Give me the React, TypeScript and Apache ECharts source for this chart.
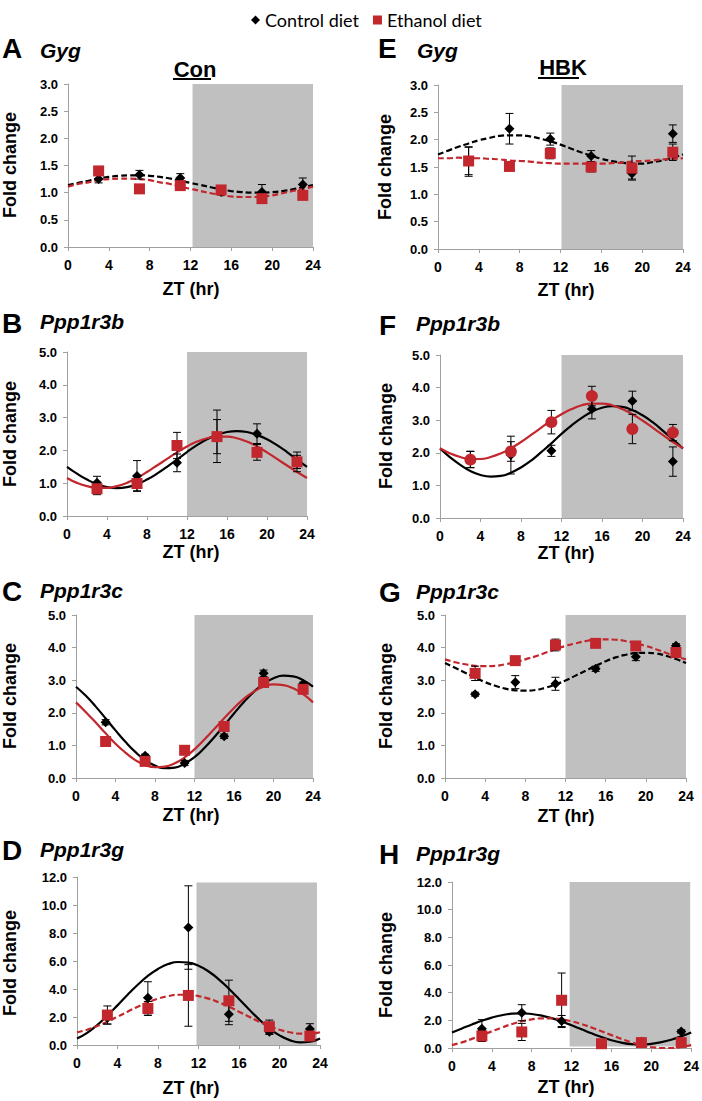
import React, { useEffect, useRef } from "react";
import * as echarts from "echarts";

// ---------- data ----------
const ZT = [3, 7, 11, 15, 19, 23];
const FIT_T = [0, 1, 2, 3, 4, 5, 6, 7, 8, 9, 10, 11, 12, 13, 14, 15, 16, 17, 18, 19, 20, 21, 22, 23, 24];
const X_TICKS = [0, 4, 8, 12, 16, 20, 24];
const LEGEND_NAMES = ["Control diet", "Ethanol diet"];

// A  Gyg (Con)
const ctrlA = [1.25, 1.33, 1.27, 1.01, 1.01, 1.15];
const ctrlErrA = [0.07, 0.08, 0.08, 0.05, 0.14, 0.12];
const ethA = [1.4, 1.07, 1.13, 1.05, 0.89, 0.95];
const ethErrA = [0.08, 0.03, 0.08, 0.04, 0.07, 0.05];
const fitCtrlA = [1.14, 1.18, 1.22, 1.26, 1.29, 1.31, 1.32, 1.32, 1.31, 1.29, 1.26, 1.22, 1.18, 1.14, 1.1, 1.06, 1.03, 1.01, 1.0, 1.0, 1.01, 1.03, 1.06, 1.1, 1.14];
const fitEthA = [1.11, 1.16, 1.19, 1.23, 1.25, 1.26, 1.26, 1.25, 1.23, 1.19, 1.16, 1.11, 1.07, 1.03, 0.99, 0.96, 0.93, 0.92, 0.92, 0.93, 0.95, 0.99, 1.03, 1.07, 1.11];

// E  Gyg (HBK)
const ctrlE = [1.6, 2.2, 2.01, 1.7, 1.38, 2.11];
const ctrlErrE = [0.27, 0.28, 0.11, 0.1, 0.1, 0.16];
const ethE = [1.61, 1.51, 1.75, 1.5, 1.48, 1.77];
const ethErrE = [0.25, 0.04, 0.1, 0.09, 0.22, 0.15];
const fitCtrlE = [1.73, 1.8, 1.87, 1.93, 1.99, 2.03, 2.07, 2.08, 2.08, 2.06, 2.02, 1.97, 1.91, 1.84, 1.77, 1.71, 1.65, 1.61, 1.58, 1.56, 1.56, 1.59, 1.62, 1.67, 1.73];
const fitEthE = [1.66, 1.66, 1.67, 1.66, 1.66, 1.65, 1.64, 1.62, 1.61, 1.6, 1.58, 1.57, 1.56, 1.56, 1.56, 1.56, 1.56, 1.57, 1.58, 1.6, 1.61, 1.62, 1.64, 1.65, 1.66];

// B  Ppp1r3b (Con)
const ctrlB = [1.01, 1.22, 1.62, 2.43, 2.51, 1.65];
const ctrlErrB = [0.2, 0.47, 0.27, 0.8, 0.3, 0.3];
const ethB = [0.83, 0.99, 2.15, 2.42, 1.94, 1.65];
const ethErrB = [0.18, 0.22, 0.4, 0.52, 0.24, 0.2];
const fitCtrlB = [1.5, 1.29, 1.11, 0.97, 0.88, 0.85, 0.88, 0.97, 1.11, 1.29, 1.5, 1.72, 1.95, 2.16, 2.34, 2.47, 2.56, 2.59, 2.56, 2.47, 2.34, 2.16, 1.95, 1.72, 1.5];
const fitEthB = [1.16, 1.01, 0.91, 0.86, 0.86, 0.91, 1.01, 1.16, 1.34, 1.54, 1.74, 1.94, 2.12, 2.27, 2.37, 2.42, 2.42, 2.37, 2.27, 2.12, 1.94, 1.74, 1.54, 1.34, 1.16];

// F  Ppp1r3b (HBK)
const ctrlF = [1.8, 1.93, 2.06, 3.34, 3.59, 1.73];
const ctrlErrF = [0.25, 0.58, 0.17, 0.3, 0.3, 0.45];
const ethF = [1.79, 2.04, 2.94, 3.74, 2.73, 2.62];
const ethErrF = [0.25, 0.3, 0.36, 0.3, 0.45, 0.25];
const fitCtrlF = [2.13, 1.86, 1.63, 1.44, 1.32, 1.27, 1.29, 1.39, 1.55, 1.76, 2.02, 2.29, 2.58, 2.84, 3.07, 3.26, 3.38, 3.43, 3.41, 3.31, 3.15, 2.94, 2.68, 2.41, 2.13];
const fitEthF = [2.14, 1.98, 1.87, 1.81, 1.81, 1.87, 1.98, 2.14, 2.33, 2.55, 2.77, 2.99, 3.18, 3.34, 3.46, 3.51, 3.51, 3.46, 3.34, 3.18, 2.99, 2.77, 2.55, 2.33, 2.14];

// C  Ppp1r3c (Con)
const ctrlC = [1.71, 0.68, 0.46, 1.28, 3.21, 2.88];
const ctrlErrC = [0.08, 0.05, 0.08, 0.07, 0.1, 0.06];
const ethC = [1.12, 0.51, 0.85, 1.58, 2.93, 2.72];
const ethErrC = [0.05, 0.06, 0.05, 0.1, 0.08, 0.08];
const fitCtrlC = [2.8, 2.52, 2.19, 1.83, 1.46, 1.11, 0.8, 0.55, 0.38, 0.3, 0.32, 0.44, 0.64, 0.92, 1.25, 1.61, 1.98, 2.33, 2.64, 2.89, 3.06, 3.14, 3.12, 3.0, 2.8];
const fitEthC = [2.32, 2.02, 1.7, 1.37, 1.05, 0.78, 0.55, 0.4, 0.33, 0.35, 0.45, 0.63, 0.88, 1.18, 1.5, 1.83, 2.15, 2.43, 2.65, 2.8, 2.87, 2.85, 2.75, 2.57, 2.32];

// G  Ppp1r3c (HBK)
const ctrlG = [2.57, 2.94, 2.89, 3.35, 3.72, 4.06];
const ctrlErrG = [0.06, 0.2, 0.2, 0.08, 0.12, 0.06];
const ethG = [3.21, 3.6, 4.08, 4.13, 4.05, 3.85];
const ethErrG = [0.22, 0.05, 0.18, 0.05, 0.06, 0.08];
const fitCtrlG = [3.53, 3.38, 3.23, 3.08, 2.94, 2.83, 2.74, 2.69, 2.68, 2.7, 2.77, 2.87, 2.99, 3.14, 3.29, 3.44, 3.58, 3.7, 3.78, 3.83, 3.84, 3.82, 3.75, 3.65, 3.53];
const fitEthG = [3.64, 3.55, 3.49, 3.44, 3.43, 3.44, 3.49, 3.55, 3.64, 3.73, 3.84, 3.95, 4.05, 4.13, 4.2, 4.24, 4.25, 4.24, 4.2, 4.13, 4.05, 3.95, 3.84, 3.73, 3.64];

// D  Ppp1r3g (Con)
const ctrlD = [1.95, 3.37, 8.39, 2.2, 0.95, 1.14];
const ctrlErrD = [0.45, 1.15, 2.98, 0.75, 0.2, 0.38];
const ethD = [2.14, 2.61, 3.54, 3.16, 1.31, 0.64];
const ethErrD = [0.65, 0.5, 2.2, 1.47, 0.47, 0.15];
const fitCtrlD = [0.46, 0.87, 1.43, 2.1, 2.83, 3.59, 4.3, 4.93, 5.43, 5.78, 5.93, 5.89, 5.66, 5.25, 4.69, 4.02, 3.29, 2.54, 1.82, 1.19, 0.69, 0.35, 0.19, 0.23, 0.46];
const fitEthD = [0.91, 1.09, 1.35, 1.66, 2.02, 2.38, 2.74, 3.05, 3.31, 3.49, 3.59, 3.59, 3.49, 3.31, 3.05, 2.74, 2.38, 2.02, 1.66, 1.35, 1.09, 0.91, 0.81, 0.81, 0.91];

// H  Ppp1r3g (HBK)
const ctrlH = [1.4, 2.55, 1.95, 0.3, 0.45, 1.2];
const ctrlErrH = [0.65, 0.58, 0.4, 0.08, 0.1, 0.12];
const ethH = [0.87, 1.16, 3.45, 0.31, 0.39, 0.39];
const ethErrH = [0.4, 0.62, 1.97, 0.05, 0.1, 0.1];
const fitCtrlH = [1.12, 1.41, 1.7, 1.97, 2.2, 2.37, 2.48, 2.51, 2.46, 2.34, 2.16, 1.92, 1.64, 1.35, 1.06, 0.79, 0.56, 0.39, 0.28, 0.25, 0.3, 0.42, 0.6, 0.84, 1.12];
const fitEthH = [0.21, 0.41, 0.66, 0.93, 1.21, 1.48, 1.73, 1.93, 2.07, 2.14, 2.14, 2.07, 1.93, 1.73, 1.48, 1.21, 0.93, 0.66, 0.41, 0.21, 0.07, 0.0, 0.0, 0.07, 0.21];

// dark phase (ZT start, ZT end, y bottom, y top)
const darkA = [12.2, 24, 0, 3];
const darkE = [12.1, 24, 0, 3];
const darkB = [12, 24, 0, 5];
const darkF = [12, 24, 0, 5];
const darkC = [12, 24, 0, 5];
const darkG = [12, 24, 0, 5];
const darkD = [11.8, 23.7, 0, 11.6];
const darkH = [11.8, 23.9, 0.1, 12];

// ---------- layout / style ----------
const RED = "#c1272d";
const FONT = "Liberation Sans";

const PANELS = [
  { letter: "A", gene: "Gyg", ctrl: ctrlA, ctrlErr: ctrlErrA, eth: ethA, ethErr: ethErrA, fitCtrl: fitCtrlA, fitEth: fitEthA, dark: darkA,
    yMax: 3, yInt: 0.5, ctrlDash: true, ethDash: true, ethSym: "rect",
    grid: { left: 68, top: 84, width: 245, height: 163 }, lp: [2, 48], gp: [40, 50], fc: [10, 165], zt: [191, 289] },
  { letter: "E", gene: "Gyg", ctrl: ctrlE, ctrlErr: ctrlErrE, eth: ethE, ethErr: ethErrE, fitCtrl: fitCtrlE, fitEth: fitEthE, dark: darkE,
    yMax: 3, yInt: 0.5, ctrlDash: true, ethDash: true, ethSym: "rect",
    grid: { left: 438, top: 85, width: 245, height: 164 }, lp: [378, 48], gp: [417, 50], fc: [385, 167], zt: [566, 290] },
  { letter: "B", gene: "Ppp1r3b", ctrl: ctrlB, ctrlErr: ctrlErrB, eth: ethB, ethErr: ethErrB, fitCtrl: fitCtrlB, fitEth: fitEthB, dark: darkB,
    yMax: 5, yInt: 1, ctrlDash: false, ethDash: false, ethSym: "rect",
    grid: { left: 67, top: 352, width: 240, height: 164 }, lp: [2, 323], gp: [40, 321], fc: [10, 434], zt: [191, 552] },
  { letter: "F", gene: "Ppp1r3b", ctrl: ctrlF, ctrlErr: ctrlErrF, eth: ethF, ethErr: ethErrF, fitCtrl: fitCtrlF, fitEth: fitEthF, dark: darkF,
    yMax: 5, yInt: 1, ctrlDash: false, ethDash: false, ethSym: "circle",
    grid: { left: 440, top: 355, width: 243, height: 163 }, lp: [379, 325], gp: [416, 323], fc: [386, 436], zt: [566, 553] },
  { letter: "C", gene: "Ppp1r3c", ctrl: ctrlC, ctrlErr: ctrlErrC, eth: ethC, ethErr: ethErrC, fitCtrl: fitCtrlC, fitEth: fitEthC, dark: darkC,
    yMax: 5, yInt: 1, ctrlDash: false, ethDash: false, ethSym: "rect",
    grid: { left: 76, top: 615, width: 237, height: 163 }, lp: [2, 591], gp: [40, 590], fc: [10, 696], zt: [191, 815] },
  { letter: "G", gene: "Ppp1r3c", ctrl: ctrlG, ctrlErr: ctrlErrG, eth: ethG, ethErr: ethErrG, fitCtrl: fitCtrlG, fitEth: fitEthG, dark: darkG,
    yMax: 5, yInt: 1, ctrlDash: true, ethDash: true, ethSym: "rect",
    grid: { left: 445, top: 615, width: 241, height: 163 }, lp: [379, 592], gp: [416, 591], fc: [386, 696], zt: [566, 816] },
  { letter: "D", gene: "Ppp1r3g", ctrl: ctrlD, ctrlErr: ctrlErrD, eth: ethD, ethErr: ethErrD, fitCtrl: fitCtrlD, fitEth: fitEthD, dark: darkD,
    yMax: 12, yInt: 2, ctrlDash: false, ethDash: true, ethSym: "rect",
    grid: { left: 77, top: 877, width: 243, height: 168 }, lp: [2, 850], gp: [40, 849], fc: [10, 963], zt: [191, 1088] },
  { letter: "H", gene: "Ppp1r3g", ctrl: ctrlH, ctrlErr: ctrlErrH, eth: ethH, ethErr: ethErrH, fitCtrl: fitCtrlH, fitEth: fitEthH, dark: darkH,
    yMax: 12, yInt: 2, ctrlDash: false, ethDash: true, ethSym: "rect",
    grid: { left: 452, top: 882, width: 240, height: 166 }, lp: [379, 854], gp: [416, 853], fc: [386, 965], zt: [566, 1087] },
];

const errRender = (params: any, api: any) => {
  const x = api.value(0);
  const lo = api.coord([x, api.value(1)]);
  const hi = api.coord([x, api.value(2)]);
  const w = 4;
  const st = { stroke: "#000", lineWidth: 1 };
  return {
    type: "group",
    children: [
      { type: "line", shape: { x1: lo[0], y1: lo[1], x2: hi[0], y2: hi[1] }, style: st },
      { type: "line", shape: { x1: hi[0] - w, y1: hi[1], x2: hi[0] + w, y2: hi[1] }, style: st },
      { type: "line", shape: { x1: lo[0] - w, y1: lo[1], x2: lo[0] + w, y2: lo[1] }, style: st },
    ],
  };
};

const darkRender = (params: any, api: any) => {
  const p0 = api.coord([api.value(0), api.value(3)]);
  const p1 = api.coord([api.value(1), api.value(2)]);
  return {
    type: "rect",
    shape: { x: p0[0], y: p0[1], width: p1[0] - p0[0], height: p1[1] - p0[1] },
    style: { fill: "#c0c0c0" },
  };
};

const txt = (text: string, x: number, y: number, size: number, opts: any = {}) => ({
  type: "text", x, y, rotation: opts.rotation || 0,
  style: {
    text, fill: "#000", fontFamily: FONT, fontSize: size, fontWeight: "bold",
    fontStyle: opts.italic ? "italic" : "normal",
    textAlign: opts.align || "left", textVerticalAlign: "middle",
  },
});

function buildOption() {
  const grid: any[] = [];
  const xAxis: any[] = [];
  const yAxis: any[] = [];
  const series: any[] = [];
  const graphic: any[] = [];
  const axisLine = { show: true, lineStyle: { color: "#a0a0a0", width: 1 } };
  const axisTick = { show: true, length: 4, lineStyle: { color: "#a0a0a0" } };

  PANELS.forEach((p, i) => {
    grid.push({ ...p.grid, containLabel: false });
    xAxis.push({
      type: "value", gridIndex: i, min: 0, max: 24, interval: 4,
      axisLine, axisTick, splitLine: { show: false },
      axisLabel: { color: "#000", fontWeight: "bold", fontSize: 14, fontFamily: FONT, margin: 11,
        formatter: (v: number) => (X_TICKS.includes(v) ? String(v) : "") },
    });
    yAxis.push({
      type: "value", gridIndex: i, min: 0, max: p.yMax, interval: p.yInt,
      axisLine, axisTick, splitLine: { show: false },
      axisLabel: { color: "#000", fontWeight: "bold", fontSize: 13, fontFamily: FONT, margin: 10,
        formatter: (v: number) => v.toFixed(1) },
    });
    series.push({
      type: "custom", xAxisIndex: i, yAxisIndex: i, z: 1, silent: true,
      renderItem: darkRender, data: [p.dark], encode: { x: [0, 1], y: [2, 3] },
    });
    series.push({
      type: "line", xAxisIndex: i, yAxisIndex: i, z: 2, smooth: true, showSymbol: false, symbol: "none",
      data: FIT_T.map((t, k) => [t, p.fitCtrl[k]]),
      lineStyle: { color: "#000", width: 2.2, type: p.ctrlDash ? [6, 3] : "solid" },
    });
    series.push({
      type: "line", xAxisIndex: i, yAxisIndex: i, z: 2, smooth: true, showSymbol: false, symbol: "none",
      data: FIT_T.map((t, k) => [t, p.fitEth[k]]),
      lineStyle: { color: RED, width: 2.2, type: p.ethDash ? [6, 3] : "solid" },
    });
    series.push({
      type: "custom", xAxisIndex: i, yAxisIndex: i, z: 3, silent: true, renderItem: errRender,
      data: ZT.map((t, k) => [t, p.ctrl[k] - p.ctrlErr[k], p.ctrl[k] + p.ctrlErr[k]]),
      encode: { x: 0, y: [1, 2] },
    });
    series.push({
      type: "custom", xAxisIndex: i, yAxisIndex: i, z: 3, silent: true, renderItem: errRender,
      data: ZT.map((t, k) => [t, p.eth[k] - p.ethErr[k], p.eth[k] + p.ethErr[k]]),
      encode: { x: 0, y: [1, 2] },
    });
    series.push({
      name: LEGEND_NAMES[0], type: "scatter", xAxisIndex: i, yAxisIndex: i, z: 4,
      symbol: "diamond", symbolSize: 10, itemStyle: { color: "#000", opacity: 1 },
      data: ZT.map((t, k) => [t, p.ctrl[k]]),
    });
    series.push({
      name: LEGEND_NAMES[1], type: "scatter", xAxisIndex: i, yAxisIndex: i, z: 5,
      symbol: p.ethSym, symbolSize: p.ethSym === "circle" ? 12 : 11, itemStyle: { color: RED, opacity: 1 },
      data: ZT.map((t, k) => [t, p.eth[k]]),
    });

    graphic.push(txt(p.letter, p.lp[0], p.lp[1], 28));
    graphic.push(txt(p.gene, p.gp[0], p.gp[1], 21, { italic: true }));
    graphic.push(txt("Fold change", p.fc[0], p.fc[1], 18, { rotation: Math.PI / 2, align: "center" }));
    graphic.push(txt("ZT (hr)", p.zt[0], p.zt[1], 18, { align: "center" }));
  });

  graphic.push(txt("Con", 195, 69, 22, { align: "center" }));
  graphic.push({ type: "line", shape: { x1: 173, y1: 79, x2: 211, y2: 79 }, style: { stroke: "#000", lineWidth: 2 } });
  graphic.push(txt("HBK", 563, 67, 22, { align: "center" }));
  graphic.push({ type: "line", shape: { x1: 538, y1: 78, x2: 579, y2: 78 }, style: { stroke: "#000", lineWidth: 2 } });

  return {
    animation: false,
    backgroundColor: "#fff",
    legend: {
      left: 246, top: 6, itemWidth: 9, itemHeight: 9, itemGap: 14,
      data: [
        { name: LEGEND_NAMES[0], icon: "diamond" },
        { name: LEGEND_NAMES[1], icon: "rect" },
      ],
      textStyle: { fontSize: 18, fontFamily: "Lato", color: "#000" },
    },
    grid, xAxis, yAxis, series, graphic,
  };
}

export default function App() {
  const ref = useRef<HTMLDivElement>(null);
  useEffect(() => {
    if (!ref.current) return;
    const chart = echarts.init(ref.current, undefined, { renderer: "svg" });
    chart.setOption(buildOption() as any);
    return () => chart.dispose();
  }, []);
  return <div ref={ref} style={{ position: "absolute", left: 0, top: 0, width: 702, height: 1101, background: "#fff" }} />;
}
